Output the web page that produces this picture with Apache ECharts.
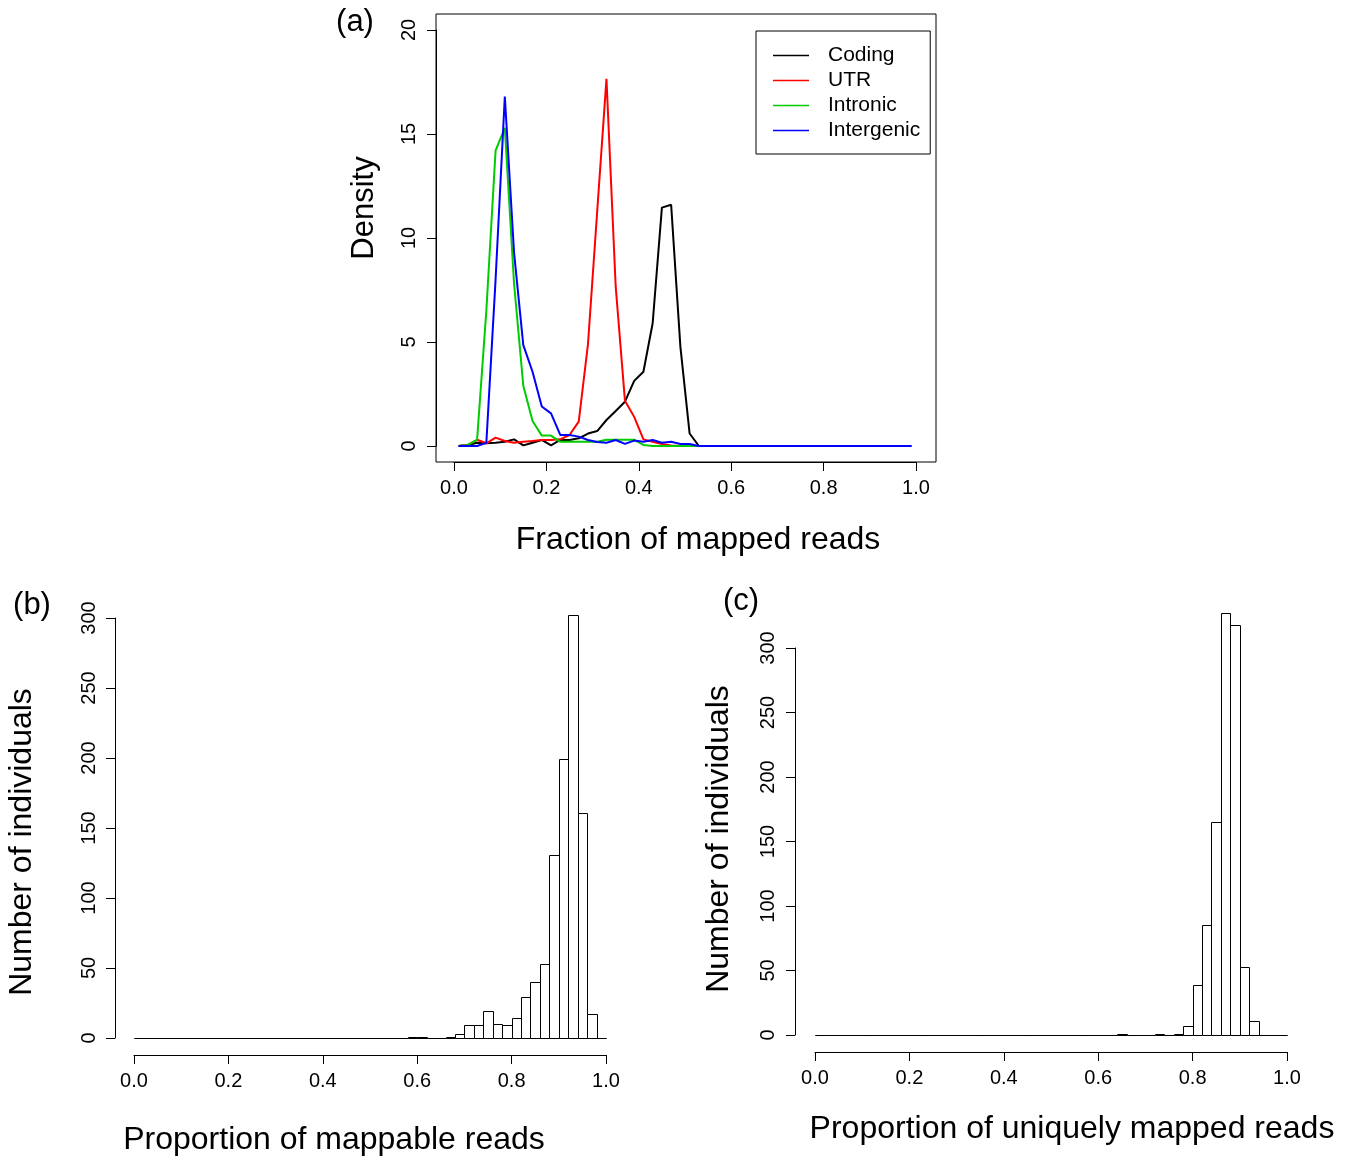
<!DOCTYPE html>
<html><head><meta charset="utf-8">
<script src="https://cdn.jsdelivr.net/npm/echarts@6/dist/echarts.min.js"></script>
<style>html,body{margin:0;padding:0;background:#fff}#c{width:1346px;height:1157px}</style>
</head><body><div id="c"></div>
<script>
const FONT = "'Liberation Sans', Arial, Helvetica, sans-serif";

// Panel (a): density of fraction of mapped reads, at bin midpoints
const fractionMid = [0.01,0.03,0.05,0.07,0.09,0.11,0.13,0.15,0.17,0.19,0.21,0.23,0.25,0.27,0.29,0.31,0.33,0.35,0.37,0.39,0.41,0.43,0.45,0.47,0.49,0.51,0.53,0.55,0.57,0.59,0.61,0.63,0.65,0.67,0.69,0.71,0.73,0.75,0.77,0.79,0.81,0.83,0.85,0.87,0.89,0.91,0.93,0.95,0.97,0.99];
const coding = [0,0.05,0.16,0.13,0.16,0.2,0.32,0.03,0.16,0.29, 0.03,0.29,0.29,0.37,0.6,0.72,1.25,1.68,2.13,3.13, 3.57,5.9,11.46,11.6,4.78,0.6,0,0,0,0, 0,0,0,0,0,0,0,0,0,0, 0,0,0,0,0,0,0,0,0,0];
const utr = [0,0.05,0.3,0.13,0.4,0.24,0.16,0.2,0.24,0.29, 0.29,0.32,0.53,1.17,4.9,11.3,17.65,7.66,2.18,1.4, 0.32,0.2,0.1,0.03,0,0,0,0,0,0, 0,0,0,0,0,0,0,0,0,0, 0,0,0,0,0,0,0,0,0,0];
const intronic = [0,0.05,0.3,6.5,14.2,15.3,7.8,2.9,1.2,0.5, 0.5,0.2,0.2,0.2,0.2,0.2,0.3,0.3,0.3,0.3, 0.05,0,0,0,0,0,0,0,0,0, 0,0,0,0,0,0,0,0,0,0, 0,0,0,0,0,0,0,0,0,0];
const intergenic = [0,0,0,0.15,8,16.8,9.3,4.85,3.57,1.9, 1.57,0.53,0.53,0.45,0.29,0.19,0.16,0.29,0.1,0.26, 0.2,0.29,0.16,0.2,0.1,0.1,0,0,0,0, 0,0,0,0,0,0,0,0,0,0, 0,0,0,0,0,0,0,0,0,0];
const seriesNames = ['Coding','UTR','Intronic','Intergenic'];
const seriesColors = ['#000000','#ff0000','#00cc00','#0000ff'];

// Panels (b) and (c): histograms
const binEdges = [0,0.02,0.04,0.06,0.08,0.1,0.12,0.14,0.16,0.18,0.2,0.22,0.24,0.26,0.28,0.3,0.32,0.34,0.36,0.38,0.4,0.42,0.44,0.46,0.48,0.5,0.52,0.54,0.56,0.58,0.6,0.62,0.64,0.66,0.68,0.7,0.72,0.74,0.76,0.78,0.8,0.82,0.84,0.86,0.88,0.9,0.92,0.94,0.96,0.98,1.0];
const mappableCounts = [0,0,0,0,0,0,0,0,0,0, 0,0,0,0,0,0,0,0,0,0, 0,0,0,0,0,0,0,0,0,1, 1,0,0,1,3,9,9,19,10,9, 14,29,40,53,131,199,302,161,17,0];
const uniqueCounts = [0,0,0,0,0,0,0,0,0,0, 0,0,0,0,0,0,0,0,0,0, 0,0,0,0,0,0,0,0,0,0, 0,0,1,0,0,0,1,0,1,7, 39,85,165,327,318,53,11,0,0,0];

const chart = echarts.init(document.getElementById('c'), null, {renderer:'canvas'});

function xAx(grid, offset, margin, show){
  return {type:'value', gridIndex:grid, min:0, max:1, interval:0.2, position:'bottom', offset:offset, show: show!==false,
    axisLine:{show:true, onZero:false, lineStyle:{color:'#000', width:1}},
    axisTick:{show:true, length:9, lineStyle:{color:'#000', width:1}},
    axisLabel:{fontSize:20, fontFamily:FONT, color:'#000', margin:margin, formatter:v=>v.toFixed(1)},
    splitLine:{show:false}};
}
function yAx(grid, max, interval, offset, margin, show){
  return {type:'value', gridIndex:grid, min:0, max:max, interval:interval, position:'left', offset:offset, show: show!==false,
    axisLine:{show:true, onZero:false, lineStyle:{color:'#000', width:1}},
    axisTick:{show:true, length:9, lineStyle:{color:'#000', width:1}},
    axisLabel:{fontSize:20, fontFamily:FONT, color:'#000', margin:margin, rotate:90},
    splitLine:{show:false}};
}

function histData(counts){
  return counts.map((c,i)=>[binEdges[i], binEdges[i+1], c]);
}
function renderBar(params, api){
  const x0 = api.value(0), x1 = api.value(1), c = api.value(2);
  const p0 = api.coord([x0, c]);
  const p1 = api.coord([x1, 0]);
  return {type:'rect', shape:{x:Math.round(p0[0])+0.5, y:Math.round(p0[1])+0.5, width:Math.round(p1[0])-Math.round(p0[0]), height:Math.round(p1[1])-Math.round(p0[1])},
    style:{fill:'#ffffff', stroke:'#000000', lineWidth:1}};
}

const lineSeries = [coding, utr, intronic, intergenic].map((vals, k)=>({
  type:'line', name:seriesNames[k], xAxisIndex:0, yAxisIndex:0,
  data: fractionMid.map((x,i)=>[x, vals[i]]),
  symbol:'none', showSymbol:false, smooth:false,
  lineStyle:{color:seriesColors[k], width:2}, itemStyle:{color:seriesColors[k]},
  z: 3 + (k===3?1:0)
}));

const txt = (text, x, y, size, rot) => ({type:'text', x:x, y:y, rotation: rot||0,
  style:{text:text, fontSize:size, fontFamily:FONT, fill:'#000', textAlign:'center', textVerticalAlign:'middle'}});

chart.setOption({
  animation:false,
  backgroundColor:'#ffffff',
  grid:[
    {left:454, top:30, width:462, height:416},
    {left:134, top:618, width:472, height:420},
    {left:815, top:648, width:472, height:387},
    {left:436, top:14, width:500, height:448, show:true, borderColor:'#000', borderWidth:1, backgroundColor:'transparent'}
  ],
  xAxis:[
    xAx(0, 16, 16),
    xAx(1, 17, 16),
    xAx(2, 17, 16),
    xAx(3, 0, 0, false)
  ],
  yAxis:[
    yAx(0, 20, 5, 18, 17),
    yAx(1, 300, 50, 19, 16),
    yAx(2, 300, 50, 20, 17),
    yAx(3, 1, 1, 0, 0, false)
  ],
  legend:{
    data: seriesNames, orient:'vertical', left:756, top:31,
    padding:[14, 10, 13, 17], borderColor:'#000', borderWidth:1,
    icon:'rect', itemWidth:36, itemHeight:1.5, itemGap:4,
    textStyle:{fontSize:21, fontFamily:FONT, color:'#000', lineHeight:20, padding:[0,0,0,14]}
  },
  series: lineSeries.concat([
    {type:'custom', name:'mappable', xAxisIndex:1, yAxisIndex:1, data:histData(mappableCounts), renderItem:renderBar, clip:false},
    {type:'custom', name:'unique', xAxisIndex:2, yAxisIndex:2, data:histData(uniqueCounts), renderItem:renderBar, clip:false}
  ]),
  graphic:[
    txt('(a)', 355, 22, 31),
    txt('Density', 364, 208, 31, Math.PI/2),
    txt('Fraction of mapped reads', 698, 540, 32),
    txt('(b)', 32, 605, 31),
    txt('Number of individuals', 22, 842, 32, Math.PI/2),
    txt('Proportion of mappable reads', 334, 1140, 32),
    txt('(c)', 741, 601, 31),
    txt('Number of individuals', 719, 839, 32, Math.PI/2),
    txt('Proportion of uniquely mapped reads', 1072, 1129, 32)
  ]
});
</script></body></html>
